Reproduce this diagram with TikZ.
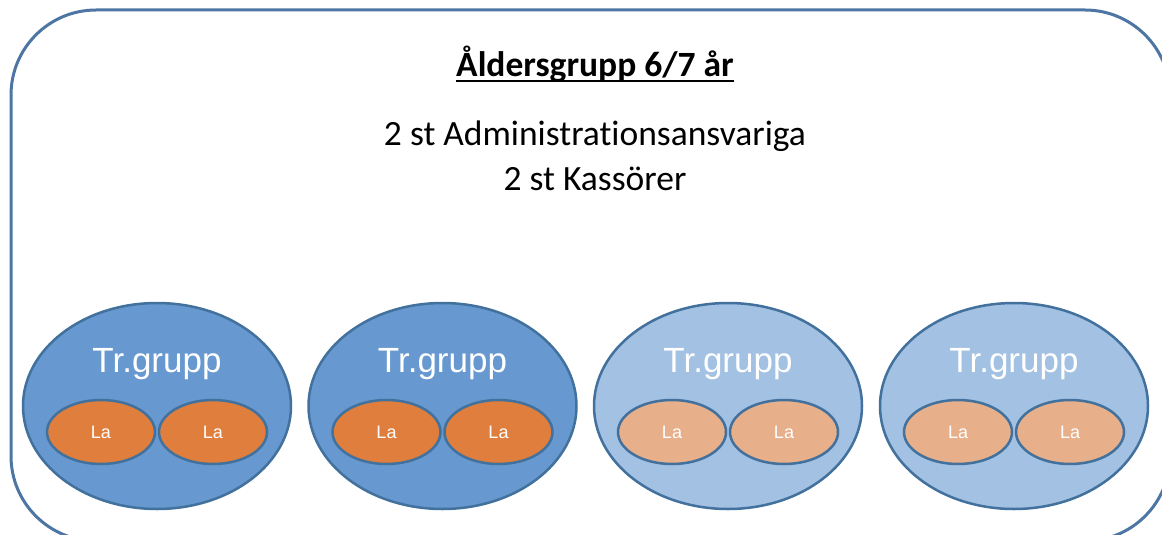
\documentclass[tikz,border=0pt]{standalone}
\usepackage{fontspec}
\setmainfont{Carlito}[Ligatures=CommonOff]
\newfontfamily\arialfont{Liberation Sans}
\usepackage{tikz}
\usetikzlibrary{shapes.geometric}
\usetikzlibrary{calc}
\usepackage{xcolor}
\definecolor{rimblue}{HTML}{41719C}
\definecolor{frameblue}{HTML}{4D76A4}
\definecolor{grpdark}{HTML}{6798CF}
\definecolor{grplight}{HTML}{A3C1E2}
\definecolor{ladark}{HTML}{E07F3D}
\definecolor{lalight}{HTML}{E8B08A}

\begin{document}
\begin{tikzpicture}[x=1pt, y=-1pt]
        % 样式:大椭圆(训练组)与小椭圆(La)
        \tikzstyle{grpnode}=[ellipse, draw=rimblue, line width=2.5pt, minimum width=268pt, minimum height=206pt, inner sep=0pt]
        \tikzstyle{lanode}=[ellipse, draw=rimblue, line width=2.5pt, minimum width=108pt, minimum height=64pt, inner sep=0pt, text=white, font=\arialfont\fontsize{18}{18}\selectfont]
        \tikzstyle{trtext}=[anchor=base, inner sep=0pt, text=white, font=\arialfont\fontsize{35}{35}\selectfont]
        \tikzstyle{bodytext}=[anchor=base, inner sep=0pt, font=\fontsize{35.5}{35.5}\selectfont]

        % 画布与外框
        \useasboundingbox (0,0) rectangle (1162,535);
        \fill[white] (0,0) rectangle (1162,535);
        \draw[frameblue, line width=3pt, rounded corners=85pt] (11,10) rectangle (1170,541);

        % 标题与文字
        \node[bodytext, font=\bfseries\fontsize{35.5}{35.5}\selectfont] (title) at (595,77) {Åldersgrupp 6/7 år};
        \draw[line width=2pt] ($(title.base west)+(0,4)$) -- ($(title.base east)+(0,4)$);
        \node[bodytext] (admin) at (595,145) {2 st Administrationsansvariga};
        \node[bodytext] (kassa) at (595,190) {2 st Kassörer};

        % 四个训练组,每组两个 La
        \foreach \i/\x/\gfill/\lfill in {1/157/grpdark/ladark, 2/442.5/grpdark/ladark, 3/728/grplight/lalight, 4/1014/grplight/lalight} {
            \node[grpnode, fill=\gfill] (g\i) at (\x,406) {};
            \node[trtext] (tr\i) at (\x,372) {Tr.grupp};
            \node[lanode, fill=\lfill] (la\i-1) at (\x-56,432) {La};
            \node[lanode, fill=\lfill] (la\i-2) at (\x+56,432) {La};
        }
    \end{tikzpicture}
\end{document}
